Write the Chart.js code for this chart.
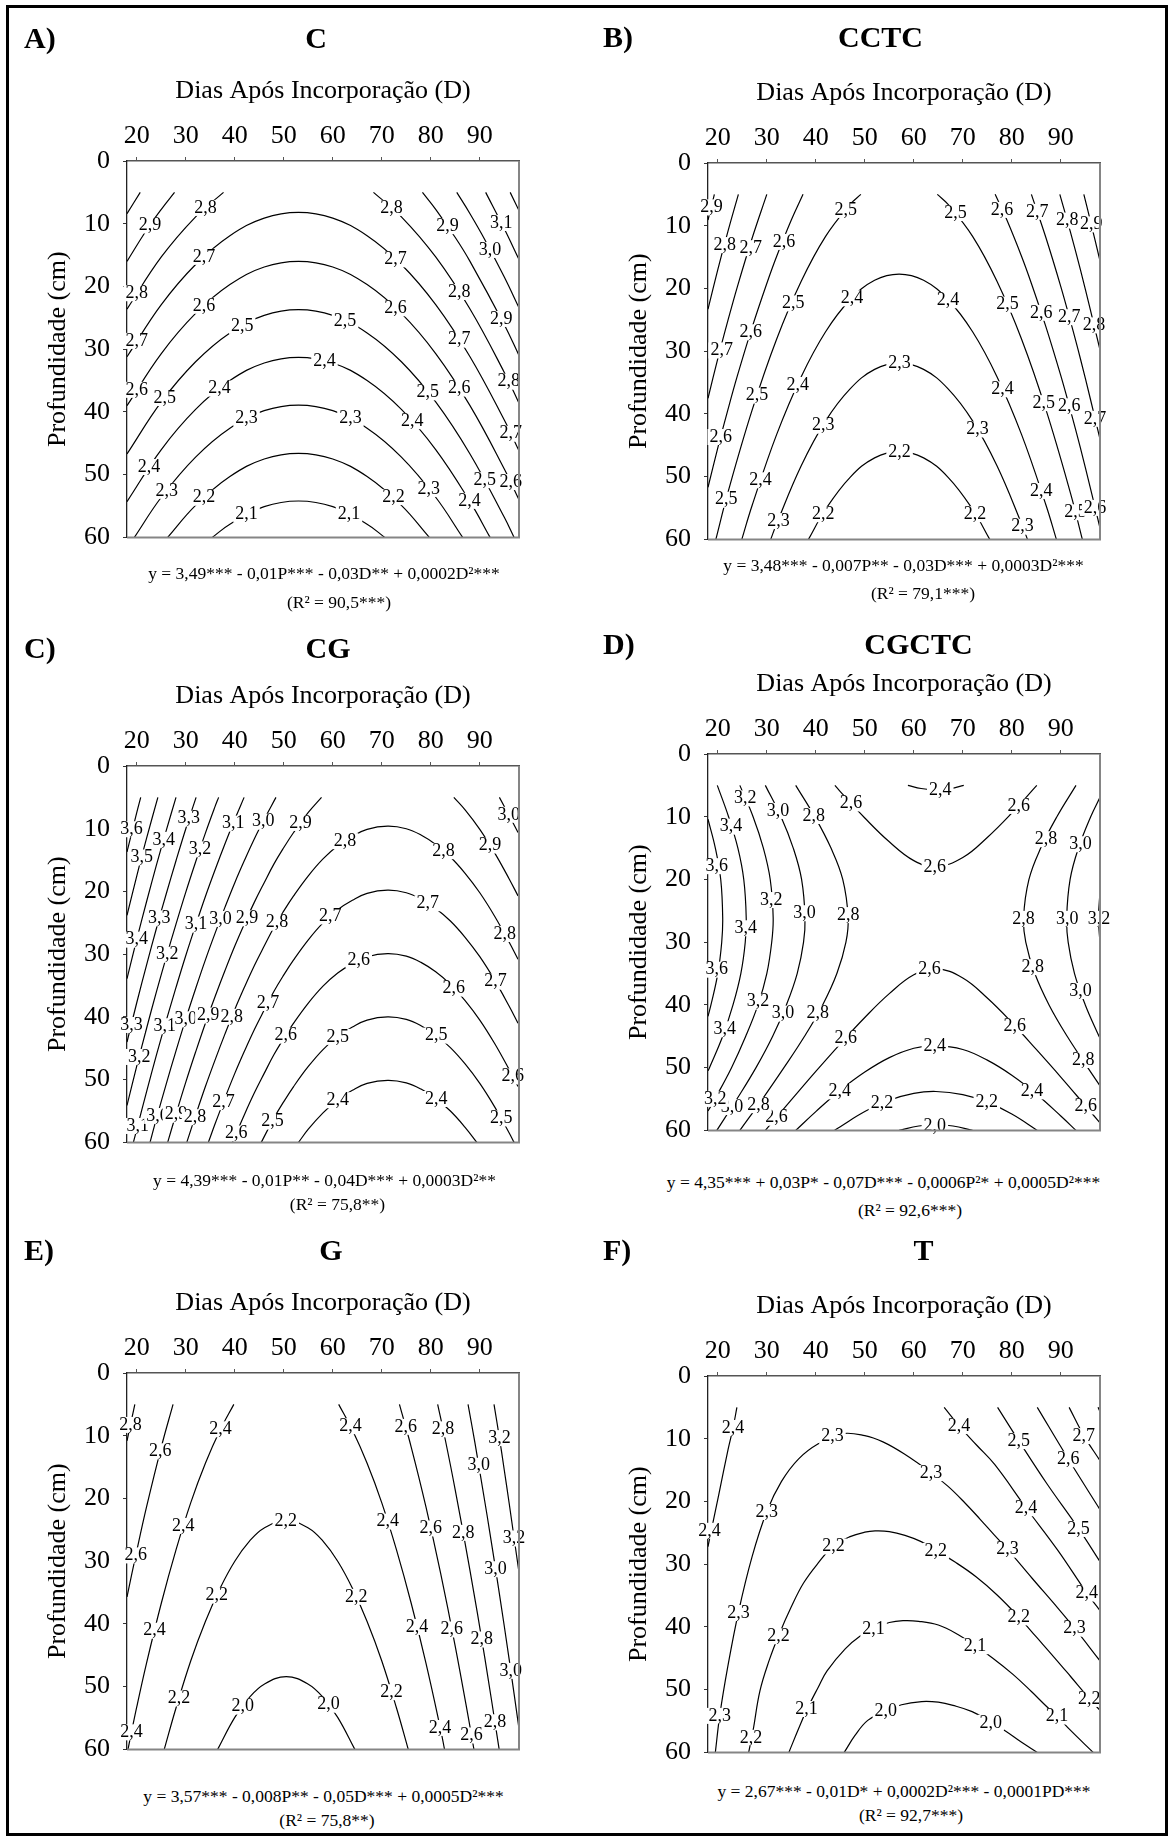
<!DOCTYPE html>
<html>
<head>
<meta charset="utf-8">
<script src="https://cdn.jsdelivr.net/npm/chart.js@4.4.1/dist/chart.umd.min.js"></script>
<style>
  body { margin: 0; background: #fff; }
  #fig { position: relative; width: 1169px; height: 1836px; overflow: hidden;
         font-family: "Liberation Serif", "Times New Roman", serif; color: #000; }
  .frame { position: absolute; left: 6px; top: 5px; right: 1px; bottom: 0; border: 3px solid #000; }
  canvas { position: absolute; }
  .txt { position: absolute; line-height: 1; white-space: nowrap; }
  .tag { font-weight: bold; font-size: 30px; transform: translateY(-50%); }
  .name { font-weight: bold; font-size: 30px; transform: translate(-50%, -50%); }
  .eq { font-size: 17.5px; transform: translate(-50%, -50%); }
</style>
</head>
<body>
<div id="fig"><div class="frame"></div></div>
<script>
const xTicks = [20, 30, 40, 50, 60, 70, 80, 90];
const yTicks = [0, 10, 20, 30, 40, 50, 60];

// contour lines: level, polyline [D, P], label anchors [D, P]
const contoursC = [
  { level: 2.1, pts: [[35.4,60],[39,57.9],[46,55.1],[53,54.2],[60,55.1],[67,57.9],[70.6,60]], labels: [[42.4,56.3],[63.3,56.2]] },
  { level: 2.2, pts: [[26.3,60],[32,54.9],[39,50.3],[46,47.5],[53,46.6],[60,47.5],[67,50.3],[74,54.9],[79.7,60]], labels: [[33.7,53.6],[72.4,53.5]] },
  { level: 2.3, pts: [[19.5,60],[25,53.6],[32,47.2],[39,42.6],[46,39.8],[53,38.9],[60,39.8],[67,42.6],[74,47.2],[81,53.6],[86.5,60]], labels: [[26.1,52.5],[42.4,41.0],[63.6,41.0],[79.6,52.2]] },
  { level: 2.4, pts: [[18,54.3],[25,46.0],[32,39.6],[39,35.0],[46,32.2],[53,31.3],[60,32.2],[67,35.0],[74,39.6],[81,46.0],[88,54.3],[92.1,60]], labels: [[22.5,48.7],[36.9,36.2],[58.3,31.8],[76.2,41.4],[87.9,54.1]] },
  { level: 2.5, pts: [[18,46.7],[25,38.4],[32,32.0],[39,27.4],[46,24.6],[53,23.7],[60,24.6],[67,27.4],[74,32.0],[81,38.4],[88,46.7],[95,56.8],[97,60]], labels: [[25.7,37.7],[41.5,26.2],[62.5,25.4],[79.4,36.8],[91.0,50.8]] },
  { level: 2.6, pts: [[18,39.0],[25,30.7],[32,24.3],[39,19.7],[46,16.9],[53,16.0],[60,16.9],[67,19.7],[74,24.3],[81,30.7],[88,39.0],[95,49.1],[98,54.0]], labels: [[20,36.4],[33.7,23.0],[72.8,23.4],[85.8,36.2],[96.3,51.1]] },
  { level: 2.7, pts: [[18,31.2],[25,22.9],[32,16.5],[39,11.9],[46,9.1],[53,8.2],[60,9.1],[67,11.9],[74,16.5],[81,22.9],[88,31.2],[95,41.3],[98,46.2]], labels: [[20,28.6],[33.7,15.2],[72.8,15.6],[85.8,28.4],[96.3,43.4]] },
  { level: 2.8, pts: [[18,23.6],[25,15.3],[32,8.9],[37.7,5]], labels: [[20,21.0],[34.0,7.4]] },
  { level: 2.8, pts: [[68.3,5],[74,8.9],[81,15.3],[88,23.6],[95,33.7],[98,38.6]], labels: [[72.0,7.4],[85.8,20.8],[95.9,35.1]] },
  { level: 2.9, pts: [[18,16.0],[22,11.0],[25,7.7],[27.7,5]], labels: [[22.7,10.2]] },
  { level: 2.9, pts: [[78.3,5],[81,7.7],[85,12.2],[88,16.0],[95,26.1],[98,31.0]], labels: [[83.4,10.3],[94.4,25.1]] },
  { level: 3.0, pts: [[18,8.4],[20.7,5]], labels: [] },
  { level: 3.0, pts: [[85.3,5],[88,8.4],[91,12.5],[95,18.5],[98,23.4]], labels: [[92.1,14.1]] },
  { level: 3.1, pts: [[91.2,5],[95,10.8],[98,15.7]], labels: [[94.4,9.8]] },
  { level: 3.2, pts: [[96.2,5],[98,7.9]], labels: [] }
];

const contoursCCTC = [
  { level: 2.2, pts: [[38.5,60],[42,55.2],[47,50.1],[52,47.0],[57,46.0],[62,47.0],[67,50.1],[72,55.2],[75.5,60]], labels: [[57.1,46.0],[41.5,55.9],[72.5,55.9]] },
  { level: 2.3, pts: [[30.8,60],[32,57.5],[37,48.3],[42,41.1],[47,36.0],[52,32.9],[57,31.9],[62,32.9],[67,36.0],[72,41.1],[77,48.3],[82,57.5],[83.2,60]], labels: [[57.1,31.9],[41.5,41.8],[73.0,42.4],[32.4,57.0],[82.2,57.9]] },
  { level: 2.4, pts: [[24.9,60],[27,54.6],[32,43.3],[37,34.1],[42,26.9],[47,21.8],[52,18.7],[57,17.7],[62,18.7],[67,21.8],[72,26.9],[77,34.1],[82,43.3],[87,54.6],[89.1,60]], labels: [[47.4,21.5],[67.0,21.8],[36.3,35.3],[78.1,36.0],[28.7,50.5],[86.0,52.2]] },
  { level: 2.5, pts: [[19.6,60],[22,52.7],[27,39.4],[32,28.1],[37,18.9],[42,11.7],[47,6.6],[49.2,5]], labels: [[46.1,7.4],[35.4,22.3],[28.0,37.0],[21.7,53.6]] },
  { level: 2.5, pts: [[64.8,5],[67,6.6],[72,11.7],[77,18.9],[82,28.1],[87,39.4],[92,52.7],[94.4,60]], labels: [[68.5,7.9],[79.1,22.5],[86.5,38.2],[93.0,55.6]] },
  { level: 2.6, pts: [[18,51.7],[20,45.4],[22,39.5],[24,33.9],[27,26.2],[30,19.2],[32,14.9],[35,9.1],[37.4,5]], labels: [[33.5,12.5],[26.7,26.9],[20.6,43.6]] },
  { level: 2.6, pts: [[76.6,5],[79,9.1],[82,14.9],[84,19.2],[87,26.2],[90,33.9],[92,39.5],[94,45.4],[96,51.7],[98,58.2]], labels: [[78.0,7.4],[86.0,23.8],[91.7,38.7],[97.0,54.9]] },
  { level: 2.7, pts: [[18,37.5],[20,31.2],[22,25.3],[24,19.7],[27,12.0],[30,5]], labels: [[26.7,13.5],[20.8,29.8]] },
  { level: 2.7, pts: [[84,5],[87,12.0],[90,19.7],[92,25.3],[94,31.2],[96,37.5],[98,44.0]], labels: [[85.2,7.7],[91.7,24.5],[97.0,40.7]] },
  { level: 2.8, pts: [[18,23.3],[20,17.0],[22,11.1],[24.2,5]], labels: [[21.4,13.0]] },
  { level: 2.8, pts: [[89.8,5],[92,11.1],[94,17.0],[96,23.3],[98,29.8]], labels: [[91.3,9.1],[96.8,25.8]] },
  { level: 2.9, pts: [[18,9.1],[19.3,5]], labels: [[18.7,7.0]] },
  { level: 2.9, pts: [[94.7,5],[96,9.1],[98,15.6]], labels: [[96.2,9.7]] }
];

const contoursCG = [
  { level: 3.6, pts: [[18,13.7],[20,7.4],[20.8,5]], labels: [[18.9,10.0]] },
  { level: 3.5, pts: [[18,23.8],[20,17.5],[22,11.5],[24.3,5]], labels: [[21,14.5]] },
  { level: 3.4, pts: [[18,33.9],[20,27.6],[22,21.6],[24,15.8],[26,10.3],[28,5]], labels: [[25.5,11.7],[20,27.6]] },
  { level: 3.3, pts: [[18,44.0],[20,37.7],[22,31.7],[24,25.9],[26,20.4],[28,15.1],[30,10.0],[32.1,5]], labels: [[30.6,8.3],[24.6,24.2],[18.9,41.2]] },
  { level: 3.2, pts: [[18,54.1],[20,47.8],[22,41.8],[24,36.0],[26,30.5],[28,25.2],[30,20.1],[32,15.3],[34,10.7],[36,6.4],[36.7,5]], labels: [[32.9,13.2],[26.2,30.0],[20.5,46.3]] },
  { level: 3.1, pts: [[19.3,60],[20,57.9],[22,51.9],[24,46.1],[26,40.6],[28,35.3],[30,30.2],[32,25.4],[34,20.8],[36,16.5],[38,12.4],[40,8.5],[41.9,5]], labels: [[39.7,9.1],[32.1,25.2],[25.7,41.4],[20.2,57.3]] },
  { level: 3.0, pts: [[22.7,60],[24,56.2],[26,50.7],[28,45.4],[30,40.3],[32,35.5],[34,30.9],[36,26.6],[38,22.5],[40,18.6],[42,15.0],[44,11.6],[46,8.5],[48.4,5]], labels: [[45.8,8.8],[37.1,24.3],[30.0,40.3],[24.2,55.7]] },
  { level: 3.0, pts: [[94.0,5],[96,7.9],[97.8,10.6]], labels: [[95.9,7.7]] },
  { level: 2.9, pts: [[26.3,60],[28,55.5],[30,50.4],[32,45.6],[34,41.0],[36,36.7],[38,32.6],[40,28.7],[42,25.1],[44,21.7],[46,18.6],[48,15.6],[50,13.0],[52,10.6],[55,7.4],[57.7,5]], labels: [[53.4,9.0],[42.5,24.2],[34.6,39.7],[28.0,55.5]] },
  { level: 2.9, pts: [[84.7,5],[87,7.0],[90,10.1],[93,13.8],[96,18.0],[97.8,20.7]], labels: [[92.1,12.6]] },
  { level: 2.8, pts: [[30.2,60],[32,55.7],[34,51.1],[36,46.8],[38,42.7],[40,38.8],[42,35.2],[44,31.8],[46,28.7],[48,25.7],[50,23.1],[52,20.7],[55,17.5],[58,14.8],[61,12.7],[64,11.2],[67,10.1],[71.2,9.6],[75,10.0],[78,11.0],[81,12.5],[84,14.5],[87,17.1],[90,20.2],[93,23.9],[96,28.1],[97.8,30.8]], labels: [[62.5,11.9],[82.6,13.5],[95.1,26.7],[48.6,24.9],[39.4,39.9],[31.9,55.9]] },
  { level: 2.7, pts: [[34.6,60],[36,57.0],[38,52.9],[40,49.0],[42,45.4],[44,42.0],[46,38.9],[48,35.9],[50,33.3],[52,30.9],[55,27.7],[58,25.0],[61,22.9],[64,21.4],[67,20.3],[71.2,19.8],[75,20.2],[78,21.2],[81,22.7],[84,24.7],[87,27.3],[90,30.4],[93,34.1],[96,38.3],[97.8,41.0]], labels: [[59.5,23.9],[79.4,21.8],[93.2,34.3],[46.8,37.7],[37.7,53.5]] },
  { level: 2.6, pts: [[39.5,60],[42,55.5],[44,52.1],[46,49.0],[48,46.0],[50,43.4],[52,41.0],[55,37.8],[58,35.1],[61,33.0],[64,31.5],[67,30.4],[71.2,29.9],[75,30.3],[78,31.3],[81,32.8],[84,34.8],[87,37.4],[90,40.5],[93,44.2],[96,48.4],[97.8,51.1]], labels: [[65.3,30.9],[84.7,35.4],[96.7,49.4],[50.4,42.9],[40.3,58.5]] },
  { level: 2.5, pts: [[45.4,60],[48,56.1],[50,53.5],[52,51.1],[55,47.9],[58,45.2],[61,43.1],[64,41.6],[67,40.5],[71.2,40.0],[75,40.4],[78,41.4],[81,42.9],[84,44.9],[87,47.5],[90,50.6],[93,54.3],[96,58.5],[97,60]], labels: [[61.0,43.1],[81.1,42.9],[47.7,56.6],[94.4,56.1]] },
  { level: 2.4, pts: [[53,60],[55,57.9],[58,55.3],[61,53.2],[64,51.7],[67,50.6],[71.2,50.1],[75,50.5],[78,51.5],[81,53.0],[84,55.0],[87,57.6],[89.4,60]], labels: [[61.0,53.2],[81.1,53.0]] }
];

const contoursCGCTC = [
  { level: 2.0, pts: [[57,60],[61,59.3],[64.5,59.1],[68,59.3],[72,60]], labels: [[64.3,59.2]] },
  { level: 2.2, pts: [[43.8,60],[45,59.4],[50,57.0],[55,55.2],[60,54.1],[64.5,53.8],[70,54.3],[75,55.5],[80,57.4],[85.2,60]], labels: [[53.5,55.6],[74.9,55.5]] },
  { level: 2.4, pts: [[35.9,60],[40,57.0],[45,53.6],[50,50.7],[55,48.4],[60,46.9],[64.5,46.5],[70,47.1],[75,48.8],[80,51.2],[85,54.2],[90,57.7],[93.1,60]], labels: [[64.3,46.5],[44.9,53.7],[84.1,53.7]] },
  { level: 2.4, pts: [[58.8,5],[61.5,5.5],[64.5,5.7],[67.5,5.5],[70.2,5]], labels: [[65.4,5.7]] },
  { level: 2.6, pts: [[43.9,5],[45,6.0],[50,10.2],[55,14.0],[60,17.0],[64.5,18.0],[70,16.5],[75,13.3],[80,9.4],[85.1,5]], labels: [[47.2,7.8],[81.4,8.2],[64.3,18.0]] },
  { level: 2.6, pts: [[29.7,60],[35,55.15],[40,50.6],[45,46.2],[50,42.0],[55,38.2],[60,35.2],[64.5,34.2],[70,35.7],[75,38.9],[80,42.8],[85,47.1],[90,51.5],[95,56.05],[98,58.8]], labels: [[63.2,34.3],[46.1,45.3],[80.6,43.3],[32.0,57.9],[95.1,56.1]] },
  { level: 2.8, pts: [[35.9,5],[39.8,10],[43.1,15],[45.5,20],[46.6,26.1],[46.15,30],[44.3,35],[41.4,40],[37.7,45],[33.5,50],[29.1,55],[24.5,60]], labels: [[39.6,9.8],[46.6,25.6],[40.4,41.3],[28.3,55.9]] },
  { level: 2.8, pts: [[93.1,5],[89.2,10],[85.9,15],[83.5,20],[82.4,26.1],[82.85,30],[84.7,35],[87.6,40],[91.3,45],[95.5,50],[98,52.9]], labels: [[87.0,13.5],[82.4,26.2],[84.3,33.9],[94.6,48.7]] },
  { level: 3.0, pts: [[29.7,5],[32.9,10],[35.4,15],[37.1,20],[37.8,26.1],[37.5,30],[36.2,35],[34.0,40],[31.2,45],[27.8,50],[23.9,55],[19.8,60]], labels: [[32.3,9.0],[37.7,25.3],[33.3,41.3],[22.9,56.2]] },
  { level: 3.0, pts: [[98,6.9],[96.1,10],[93.6,15],[91.9,20],[91.2,26.1],[91.5,30],[92.8,35],[95.0,40],[97.8,45],[98,45.3]], labels: [[94.0,14.3],[91.3,26.2],[94.0,37.7]] },
  { level: 3.2, pts: [[24.5,5],[27.2,10],[29.3,15],[30.7,20],[31.3,26.1],[31.0,30],[30.0,35],[28.2,40],[25.7,45],[22.8,50],[19.4,55],[18,56.9]], labels: [[25.6,7.0],[30.9,23.2],[28.2,39.4],[19.5,54.9]] },
  { level: 3.2, pts: [[98,22.0],[97.7,26.1],[98,30.2]], labels: [[97.8,26.2]] },
  { level: 3.4, pts: [[19.9,5],[22.2,10],[24.1,15],[25.3,20],[25.8,26.1],[25.6,30],[24.7,35],[23.1,40],[21.0,45],[18.3,50],[18,50.5]], labels: [[22.7,11.5],[25.7,27.7],[21.4,43.8]] },
  { level: 3.6, pts: [[18,10.4],[19.5,15],[20.6,20],[21.0,26.1],[20.8,30],[20.0,35],[18.6,40],[18,41.8]], labels: [[19.8,17.8],[19.8,34.3]] }
];

const contoursG = [
  { level: 2.0, pts: [[36.5,60],[40,54.9],[43,51.7],[46,49.6],[50.5,48.4],[55,49.6],[58,51.7],[61,54.9],[64.5,60]], labels: [[41.6,53.1],[59.1,52.8]] },
  { level: 2.2, pts: [[25.6,60],[28,53.4],[31,45.9],[34,39.6],[37,34.3],[40,30.0],[43,26.8],[46,24.7],[50.5,23.5],[55,24.7],[58,26.8],[61,30.0],[64,34.3],[67,39.6],[70,45.9],[73,53.4],[75.4,60]], labels: [[50.4,23.5],[36.3,35.4],[64.8,35.6],[28.6,51.8],[72.0,50.8]] },
  { level: 2.4, pts: [[18.2,60],[20,53.2],[22,46.2],[25,36.7],[28,28.2],[31,20.7],[34,14.4],[37,9.1],[39.8,5]], labels: [[37.1,8.9],[29.5,24.3],[23.6,41.0],[18.9,57.2]] },
  { level: 2.4, pts: [[61.2,5],[64,9.1],[67,14.4],[70,20.7],[73,28.2],[76,36.7],[79,46.2],[82,56.8],[82.8,60]], labels: [[63.6,8.4],[71.2,23.6],[77.2,40.4],[81.9,56.5]] },
  { level: 2.6, pts: [[18,35.7],[20,28.3],[22,21.3],[25,11.8],[27.4,5]], labels: [[24.8,12.4],[19.8,29.0]] },
  { level: 2.6, pts: [[73.6,5],[76,11.8],[79,21.3],[82,31.9],[85,43.6],[88,56.4],[88.8,60]], labels: [[74.9,8.5],[80.0,24.7],[84.3,40.8],[88.3,57.7]] },
  { level: 2.8, pts: [[18,10.8],[19.6,5]], labels: [[18.7,8.2]] },
  { level: 2.8, pts: [[81.4,5],[83,10.8],[85,18.7],[88,31.5],[91,45.3],[93.95,60]], labels: [[82.5,8.9],[86.6,25.4],[90.4,42.4],[93.1,55.6]] },
  { level: 3.0, pts: [[87.6,5],[89,11.1],[91,20.4],[92,25.2],[94,35.2],[96,45.7],[98,56.7]], labels: [[89.8,14.7],[93.2,31.2],[96.3,47.4]] },
  { level: 3.2, pts: [[92.9,5],[94,10.3],[95,15.5],[96,20.8],[97,26.3],[98,31.8]], labels: [[94.0,10.3],[97.0,26.3]] }
];

const contoursT = [
  { level: 2.0, pts: [[45.8,60],[48,57.3],[50.6,54.9],[54,53.5],[57.5,52.4],[61.6,51.9],[65,52.0],[68,52.5],[71.9,53.5],[75.3,55.0],[78.7,56.6],[82,58.4],[85.2,60]], labels: [[54.3,53.4],[75.7,55.2]] },
  { level: 2.1, pts: [[34.5,60],[36.5,56.2],[38.1,53.3],[40.5,49.6],[42.3,47.0],[46,43.5],[49,41.5],[52,40.2],[55,39.3],[57.8,39.0],[61,39.1],[65,39.7],[69,41.2],[72.5,43.0],[76,44.9],[80.3,47.6],[84,50.3],[87,52.6],[89.2,54.2],[92,56.5],[96.6,60]], labels: [[38.1,53.0],[51.8,40.3],[72.5,43.0],[89.2,54.2]] },
  { level: 2.2, pts: [[26.3,60],[27.2,56.5],[28.6,50.2],[30.5,45.3],[32.4,41.4],[35,36.8],[37.5,33.0],[40.5,29.8],[43.6,27.1],[47,25.6],[50,24.9],[52.1,24.7],[55,24.8],[58.2,25.4],[61.5,26.4],[64.5,27.8],[68.5,29.7],[72.7,32.0],[77,34.9],[81.4,38.4],[85,41.6],[88.6,44.8],[92,47.9],[95.8,51.4],[98,53.3]], labels: [[26.8,57.6],[32.4,41.4],[43.6,27.1],[64.5,27.8],[81.4,38.4],[95.8,51.4]] },
  { level: 2.3, pts: [[19.5,60],[20.4,54.1],[22,46.5],[24.2,37.7],[27,28.8],[30,21.6],[33,16.8],[36.5,13.2],[40.5,10.8],[45.3,9.2],[50,9.5],[53.7,10.5],[58,12.4],[63.5,15.4],[67,17.6],[70.4,20.2],[73.5,22.8],[76.5,25.4],[79.1,27.6],[84.1,32.2],[89.4,37.0],[92.8,40.2],[98,45.4]], labels: [[43.4,9.6],[20.4,54.1],[24.2,37.7],[30.0,21.6],[63.5,15.4],[79.1,27.6],[92.8,40.2]] },
  { level: 2.4, pts: [[23.9,5],[23.1,8.3],[22.1,11.7],[20.2,18.9],[18.6,24.9],[18,27.2]], labels: [[23.1,8.2],[18.3,24.6]] },
  { level: 2.4, pts: [[66.2,5],[69.2,7.9],[72.8,11.0],[76.5,14.1],[82.9,21.0],[89.4,27.8],[95.3,34.6],[98,37.4]], labels: [[69.2,7.9],[82.9,21.0],[95.3,34.6]] },
  { level: 2.5, pts: [[77.1,5],[81.4,10.3],[87.1,17.1],[93.6,24.3],[98,29.6]], labels: [[81.4,10.3],[93.6,24.3]] },
  { level: 2.6, pts: [[85.2,5],[91.5,13.2],[98,21.3]], labels: [[91.5,13.2]] },
  { level: 2.7, pts: [[91.7,5],[94.7,9.5],[98,13.5]], labels: [[94.7,9.5]] },
  { level: 2.8, pts: [[97.6,5],[98,5.7]], labels: [] }
];

const FONT = '"Liberation Serif", "Times New Roman", serif';
const PAD_L = 110, PAD_T = 110, PAD_R = 22, PAD_B = 14;
const PLOT_W = 392, PLOT_H = 391;

const panels = [
  { tag: 'A)', name: 'C', lines: contoursC, left: 127, top: 161, tagX: 24, tagY: 38, nameX: 316,
    eq: 'y = 3,49*** - 0,01P*** - 0,03D** + 0,0002D²***', r2: '(R² = 90,5***)', eqX: 324, eqY: 574, r2X: 339, r2Y: 603 },
  { tag: 'B)', name: 'CCTC', lines: contoursCCTC, left: 708, top: 163, tagX: 603, tagY: 37, nameX: 880.5,
    eq: 'y = 3,48*** - 0,007P** - 0,03D*** + 0,0003D²***', r2: '(R² = 79,1***)', eqX: 903.5, eqY: 566, r2X: 923, r2Y: 594 },
  { tag: 'C)', name: 'CG', lines: contoursCG, left: 127, top: 766, tagX: 24, tagY: 648, nameX: 328,
    eq: 'y = 4,39*** - 0,01P** - 0,04D*** + 0,0003D²**', r2: '(R² = 75,8**)', eqX: 324.5, eqY: 1180.5, r2X: 337.5, r2Y: 1204.5 },
  { tag: 'D)', name: 'CGCTC', lines: contoursCGCTC, left: 708, top: 754, tagX: 603, tagY: 644, nameX: 918.5,
    eq: 'y = 4,35*** + 0,03P* - 0,07D*** - 0,0006P²* + 0,0005D²***', r2: '(R² = 92,6***)', eqX: 883.5, eqY: 1182.5, r2X: 910, r2Y: 1210.5 },
  { tag: 'E)', name: 'G', lines: contoursG, left: 127, top: 1373, tagX: 24, tagY: 1250, nameX: 331,
    eq: 'y = 3,57*** - 0,008P** - 0,05D*** + 0,0005D²***', r2: '(R² = 75,8**)', eqX: 323.5, eqY: 1797, r2X: 327, r2Y: 1821 },
  { tag: 'F)', name: 'T', lines: contoursT, left: 708, top: 1376, tagX: 603, tagY: 1250, nameX: 923.5,
    eq: 'y = 2,67*** - 0,01D* + 0,0002D²*** - 0,0001PD***', r2: '(R² = 92,7***)', eqX: 904, eqY: 1792, r2X: 911, r2Y: 1816 }
];

function fmtLevel(v) {
  return v.toFixed(1).replace('.', ',');
}

// writes the level on each contour, blanking the line behind the number
function contourLabels(lines) {
  return {
    id: 'contourLabels',
    afterDatasetsDraw(chart) {
      const { ctx, scales: { x, y } } = chart;
      ctx.save();
      ctx.font = '18px ' + FONT;
      ctx.textAlign = 'center';
      ctx.textBaseline = 'middle';
      lines.forEach(l => {
        const txt = fmtLevel(l.level);
        const w = ctx.measureText(txt).width;
        l.labels.forEach(([d, p]) => {
          const px = x.getPixelForValue(d);
          const py = y.getPixelForValue(p);
          ctx.fillStyle = '#fff';
          ctx.fillRect(px - w / 2 - 2, py - 7.5, w + 4, 16);
          ctx.fillStyle = '#000';
          ctx.fillText(txt, px, py + 0.5);
        });
      });
      ctx.restore();
    }
  };
}

// right and bottom edges of the plot box
const plotEdges = {
  id: 'plotEdges',
  afterDraw(chart) {
    const { ctx, chartArea: a } = chart;
    ctx.save();
    ctx.strokeStyle = '#858585';
    ctx.lineWidth = 2;
    ctx.beginPath();
    ctx.moveTo(a.right, a.top);
    ctx.lineTo(a.right, a.bottom);
    ctx.lineTo(a.left, a.bottom);
    ctx.stroke();
    ctx.restore();
  }
};

function addText(cls, text, x, y) {
  const el = document.createElement('div');
  el.className = 'txt ' + cls;
  el.textContent = text;
  el.style.left = x + 'px';
  el.style.top = y + 'px';
  document.getElementById('fig').appendChild(el);
}

function buildPanel(pn) {
  const cv = document.createElement('canvas');
  cv.width = PAD_L + PLOT_W + PAD_R;
  cv.height = PAD_T + PLOT_H + PAD_B;
  cv.style.left = (pn.left - PAD_L) + 'px';
  cv.style.top = (pn.top - PAD_T) + 'px';
  document.getElementById('fig').appendChild(cv);

  const datasets = pn.lines.map(l => ({
    data: l.pts.map(([d, p]) => ({ x: d, y: p })),
    showLine: true,
    borderColor: '#000',
    borderWidth: 1.2,
    pointRadius: 0,
    tension: 0.4,
    fill: false
  }));

  return new Chart(cv, {
    type: 'scatter',
    data: { datasets },
    options: {
      responsive: false,
      animation: false,
      devicePixelRatio: 1,
      layout: { padding: { left: 0, top: 0, right: PAD_R, bottom: PAD_B } },
      plugins: { legend: { display: false }, tooltip: { enabled: false } },
      scales: {
        x: {
          type: 'linear', position: 'top', min: 18, max: 98, z: 1,
          afterBuildTicks: s => { s.ticks = xTicks.map(v => ({ value: v })); },
          afterFit: s => { s.height = PAD_T; },
          grid: { drawOnChartArea: false, tickLength: 4, color: '#555', lineWidth: 1 },
          border: { color: '#555', width: 1.5 },
          ticks: { font: { family: FONT, size: 26 }, color: '#000', padding: 5, maxRotation: 0, autoSkip: false },
          title: { display: true, text: 'Dias Após Incorporação (D)', font: { family: FONT, size: 26 }, color: '#000', padding: { top: 25, bottom: 0 } }
        },
        y: {
          type: 'linear', position: 'left', min: 0, max: 60, reverse: true, z: 1,
          afterBuildTicks: s => { s.ticks = yTicks.map(v => ({ value: v })); },
          afterFit: s => { s.width = PAD_L; },
          grid: { drawOnChartArea: false, tickLength: 4, color: '#333', lineWidth: 1 },
          border: { color: '#222', width: 1.3 },
          ticks: { font: { family: FONT, size: 26 }, color: '#000', padding: 13, autoSkip: false },
          title: { display: true, text: 'Profundidade (cm)', font: { family: FONT, size: 26 }, color: '#000', padding: { top: 26, bottom: 0 } }
        }
      }
    },
    plugins: [contourLabels(pn.lines), plotEdges]
  });
}

panels.forEach(pn => {
  buildPanel(pn);
  addText('tag', pn.tag, pn.tagX, pn.tagY);
  addText('name', pn.name, pn.nameX, pn.tagY);
  addText('eq', pn.eq, pn.eqX, pn.eqY);
  addText('eq', pn.r2, pn.r2X, pn.r2Y);
});
</script>
</body>
</html>
